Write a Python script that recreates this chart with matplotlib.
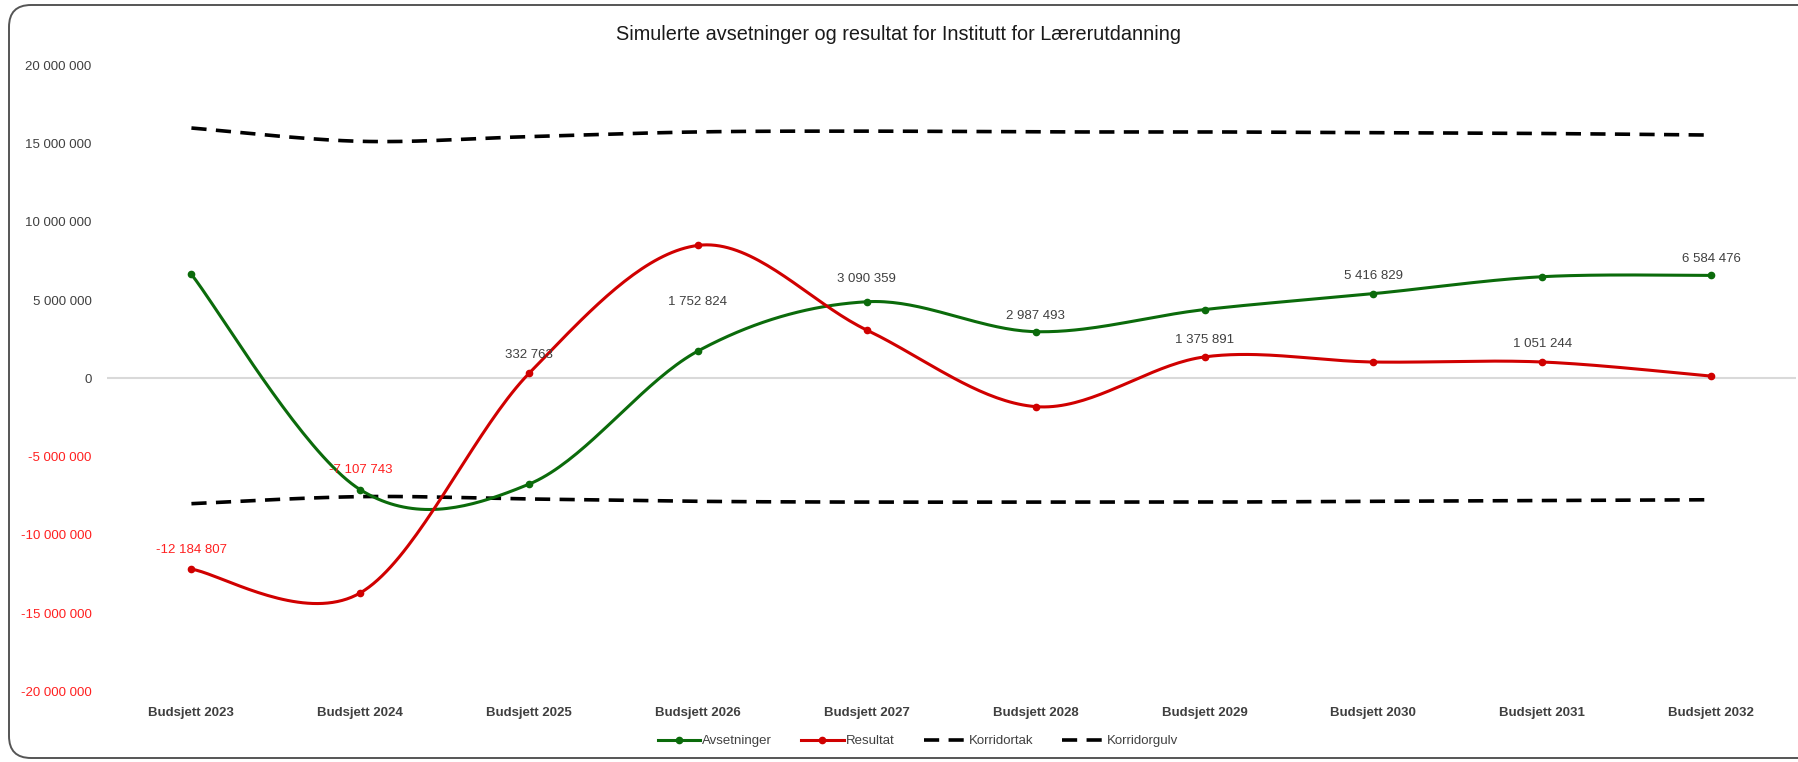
import matplotlib
matplotlib.use("Agg")
import matplotlib.pyplot as plt
from matplotlib.patches import FancyBboxPatch
from matplotlib.ticker import FuncFormatter, MultipleLocator
import numpy as np

plt.rcParams['font.family'] = ['Liberation Sans', 'DejaVu Sans']

years = ["Budsjett 2023", "Budsjett 2024", "Budsjett 2025", "Budsjett 2026", "Budsjett 2027",
         "Budsjett 2028", "Budsjett 2029", "Budsjett 2030", "Budsjett 2031", "Budsjett 2032"]
avsetninger = [6_650_000, -7_107_743, -6_750_000, 1_752_824, 4_900_000,
               2_987_493, 4_400_000, 5_416_829, 6_500_000, 6_584_476]
resultat = [-12_184_807, -13_700_000, 332_763, 8_500_000, 3_090_359,
            -1_800_000, 1_375_891, 1_050_000, 1_051_244, 150_000]
korridortak = [16_000_000, 15_150_000, 15_450_000, 15_750_000, 15_800_000,
               15_750_000, 15_750_000, 15_700_000, 15_650_000, 15_550_000]
korridorgulv = [-8_000_000, -7_550_000, -7_700_000, -7_850_000, -7_900_000,
                -7_900_000, -7_900_000, -7_850_000, -7_800_000, -7_750_000]

# which series carries the data label at each category
label_series = ["Resultat", "Avsetninger", "Resultat", "Avsetninger", "Resultat",
                "Avsetninger", "Resultat", "Avsetninger", "Resultat", "Avsetninger"]
label_lift = [14, 14, 13, 35, 37, 11, 12, 13, 13, 12]  # points above the marker

GREEN = "#0B6B0B"
RED = "#D00000"
TXT = "#404040"
NEG = "#FF2020"


def fmt(v):
    return f"{v:,.0f}".replace(",", " ")


def smooth(x, y, n=40):
    # Excel-style smoothed line (Catmull-Rom as cubic Bezier)
    x = np.asarray(x, float)
    y = np.asarray(y, float)
    px = np.r_[x[0], x, x[-1]]
    py = np.r_[y[0], y, y[-1]]
    xs, ys = [], []
    t = np.linspace(0, 1, n)
    for i in range(1, len(x)):
        p0 = np.array([px[i], py[i]])
        p3 = np.array([px[i + 1], py[i + 1]])
        p1 = p0 + (p3 - np.array([px[i - 1], py[i - 1]])) / 6
        p2 = p3 - (np.array([px[i + 2], py[i + 2]]) - p0) / 6
        b = ((1 - t) ** 3)[:, None] * p0 + (3 * (1 - t) ** 2 * t)[:, None] * p1 \
            + (3 * (1 - t) * t ** 2)[:, None] * p2 + (t ** 3)[:, None] * p3
        xs.append(b[:, 0])
        ys.append(b[:, 1])
    return np.concatenate(xs), np.concatenate(ys)


W, H = 1798, 762
fig = plt.figure(figsize=(W / 100, H / 100), dpi=100)

# outer chart frame with rounded corners (right edge cut off like the reference)
bg = fig.add_axes([0, 0, 1, 1])
bg.set_xlim(0, W)
bg.set_ylim(0, H)
bg.axis("off")
bg.add_patch(FancyBboxPatch((9, 4), W + 40, H - 9, boxstyle="round,pad=0,rounding_size=22",
                            fc="white", ec="#555555", lw=1.4))

ax = fig.add_axes([107 / W, 1 - 691.5 / H, (1795.5 - 107) / W, (691.5 - 65.4) / H])
ax.set_facecolor("none")
x = np.arange(len(years))

ax.axhline(0, color="#D9D9D9", lw=1.5, zorder=1)

sx, sy = smooth(x, korridortak)
tak, = ax.plot(sx, sy, color="black", lw=2.6, dashes=(4.2, 2.6), label="Korridortak", zorder=2)
sx, sy = smooth(x, korridorgulv)
gulv, = ax.plot(sx, sy, color="black", lw=2.6, dashes=(4.2, 2.6), label="Korridorgulv", zorder=2)

series = {"Avsetninger": (avsetninger, GREEN), "Resultat": (resultat, RED)}
handles = {}
for name, (vals, col) in series.items():
    sx, sy = smooth(x, vals)
    ax.plot(sx, sy, color=col, lw=2.2, zorder=3)
    ax.plot(x, vals, "o", color=col, ms=4.5, zorder=4)
    handles[name], = ax.plot([], [], color=col, lw=2.2, marker="o", ms=4.5)

for i, name in enumerate(label_series):
    v = series[name][0][i]
    ax.annotate(fmt(v), (x[i], v), xytext=(0, label_lift[i]), textcoords="offset points",
                ha="center", va="center", fontsize=9.5, color=NEG if v < 0 else TXT, zorder=5)

ax.set_xlim(-0.5, len(years) - 0.5)
ax.set_ylim(-20_000_000, 20_000_000)
ax.yaxis.set_major_locator(MultipleLocator(5_000_000))
ax.yaxis.set_major_formatter(FuncFormatter(lambda v, p: fmt(v)))
ax.set_xticks(x)
ax.set_xticklabels(years)
ax.tick_params(axis="both", length=0, labelsize=9.5, labelcolor=TXT)
ax.tick_params(axis="y", pad=11)
ax.tick_params(axis="x", pad=11)
for lab in ax.get_xticklabels():
    lab.set_fontweight("bold")
for v, lab in zip(ax.get_yticks(), ax.get_yticklabels()):
    if v < 0:
        lab.set_color(NEG)
for s in ax.spines.values():
    s.set_visible(False)

fig.text(0.5, 1 - 34 / H, "Simulerte avsetninger og resultat for Institutt for Lærerutdanning",
         ha="center", va="center", fontsize=14.3, color="#1a1a1a")

fig.legend([handles["Avsetninger"], handles["Resultat"], tak, gulv],
           ["Avsetninger", "Resultat", "Korridortak", "Korridorgulv"],
           loc="center", bbox_to_anchor=(918 / W, 1 - 741 / H), ncol=4, frameon=False,
           fontsize=9.5, handlelength=3.2, handletextpad=0.2, columnspacing=2.2,
           labelcolor=TXT)

fig.savefig("out.png", dpi=100)
